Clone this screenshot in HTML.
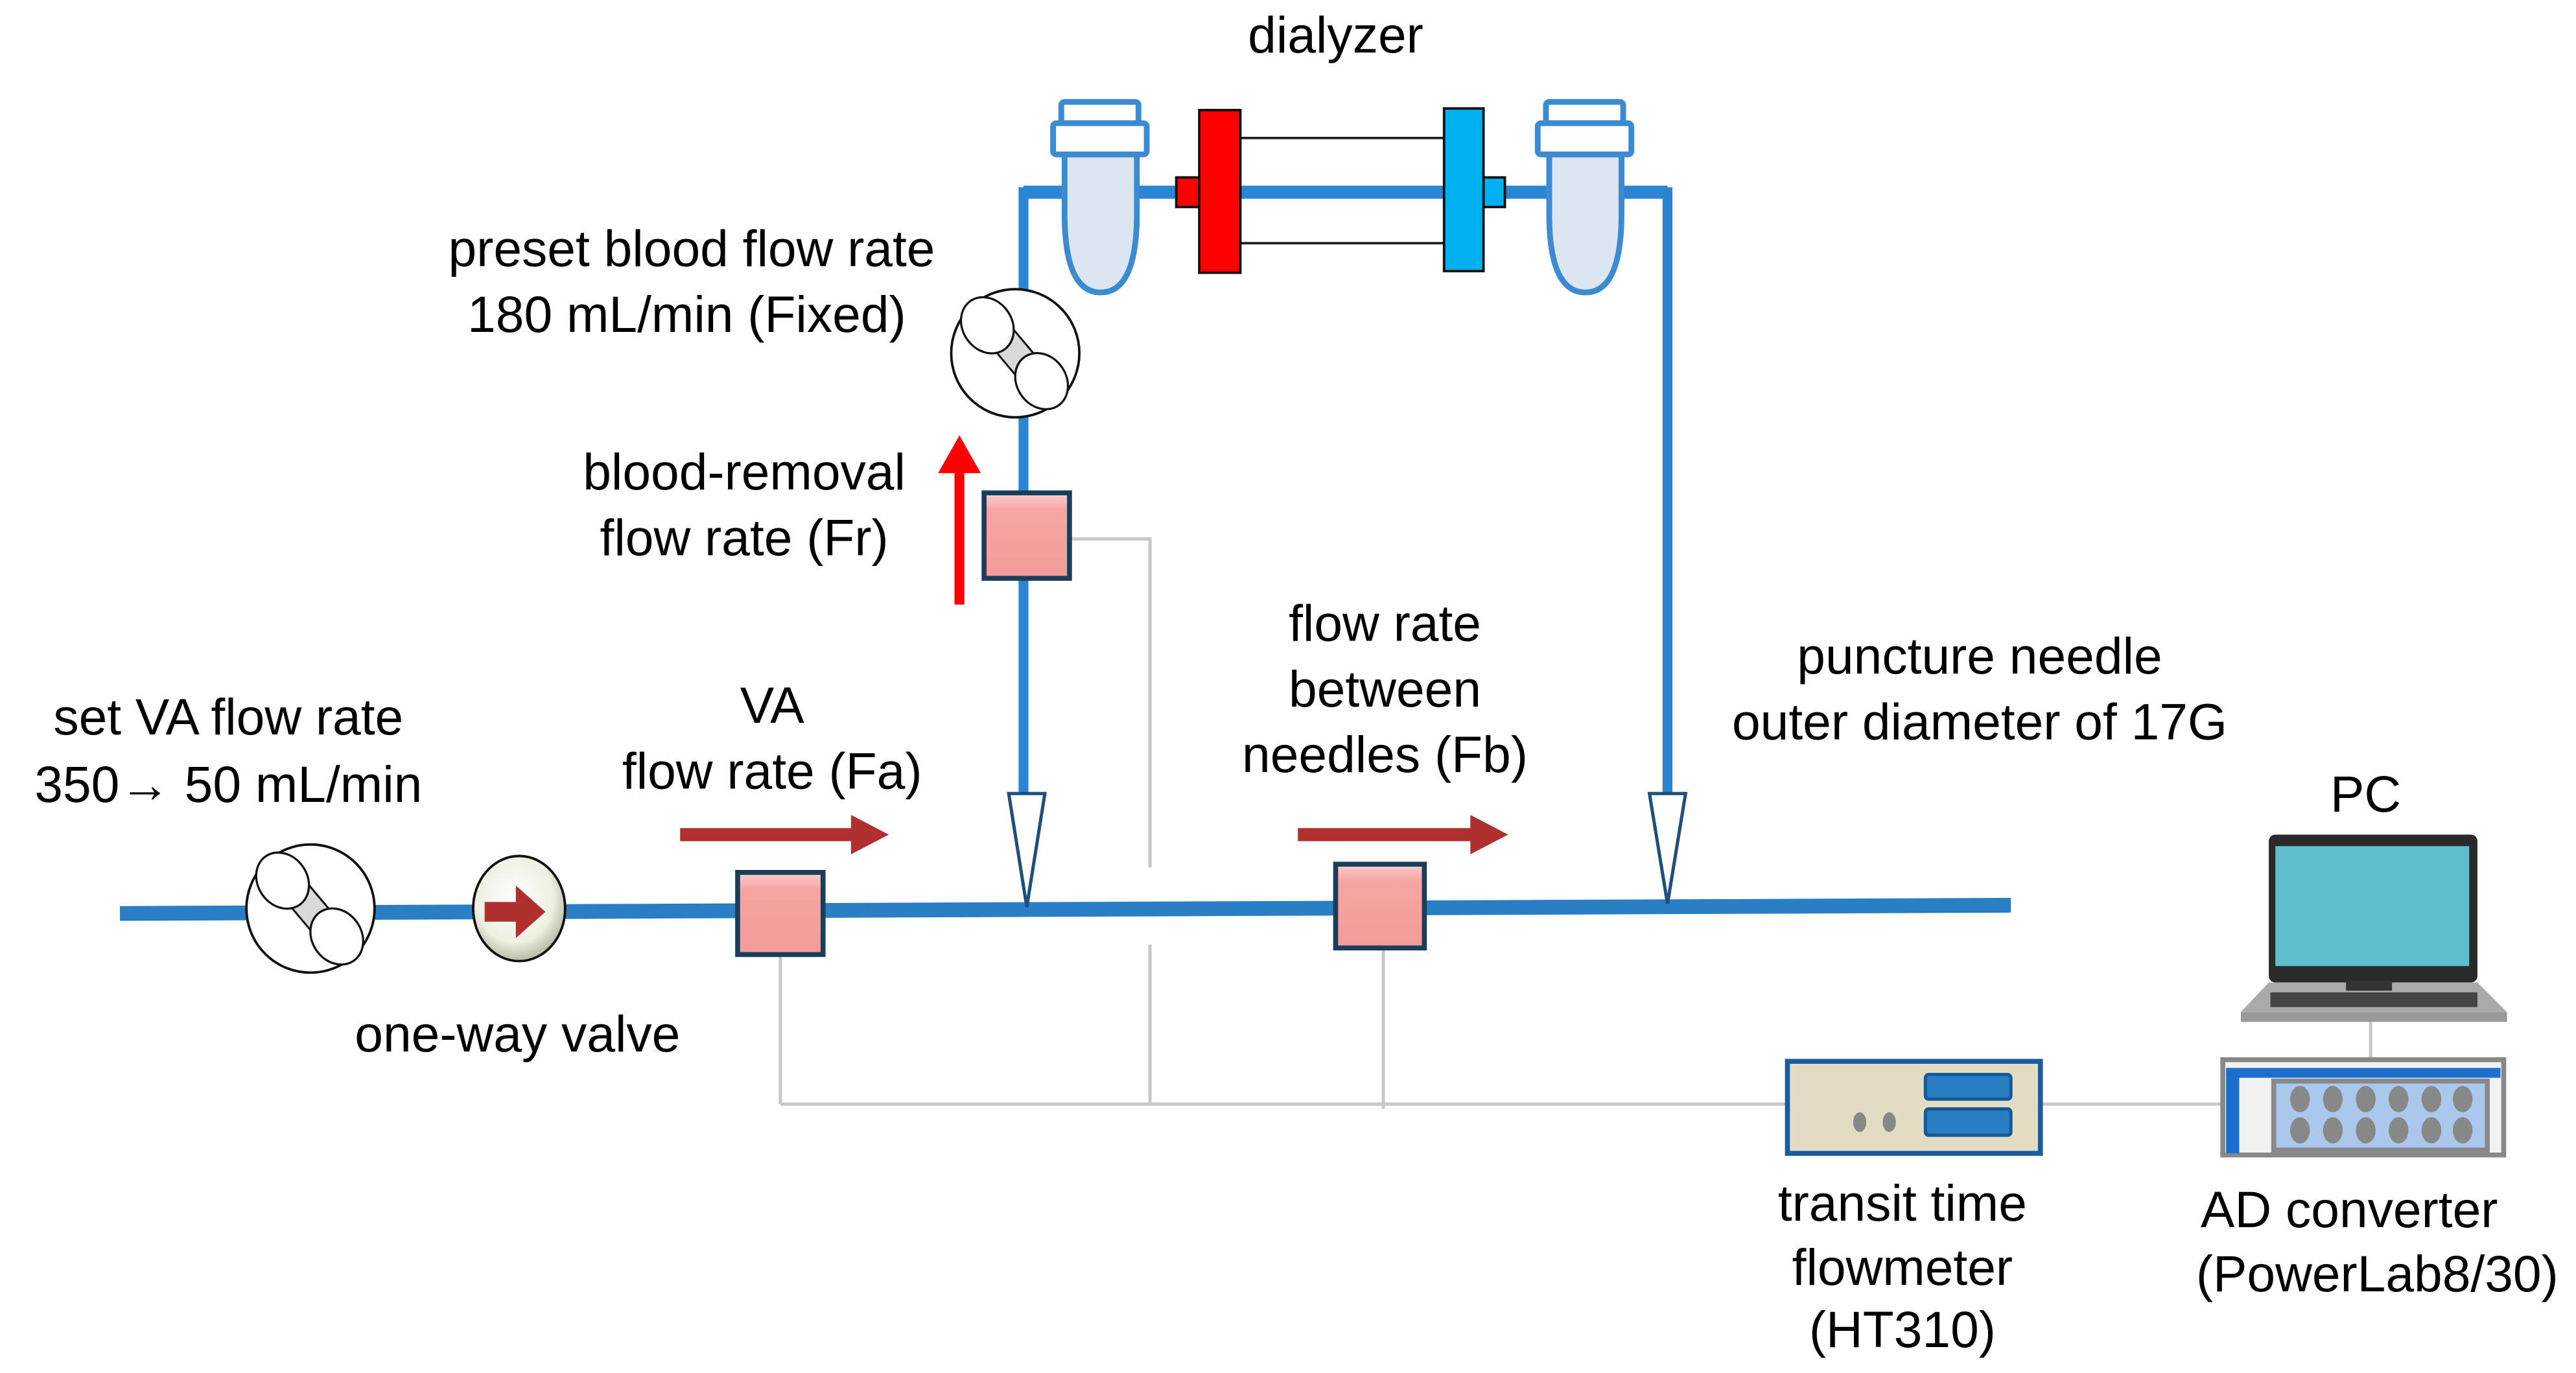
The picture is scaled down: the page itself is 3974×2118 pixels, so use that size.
<!DOCTYPE html>
<html><head><meta charset="utf-8"><style>html,body{margin:0;padding:0;background:#fff}svg{display:block}</style></head>
<body>
<svg width="3974" height="2118" viewBox="0 0 1568 835.7" preserveAspectRatio="none" xmlns="http://www.w3.org/2000/svg">
<defs>
<linearGradient id="pk" x1="0" y1="0" x2="0" y2="1"><stop offset="0" stop-color="#fbd0d0"/><stop offset="0.2" stop-color="#f6a5a2"/><stop offset="1" stop-color="#f29c98"/></linearGradient>
<radialGradient id="vg" cx="0.45" cy="0.4" r="0.6"><stop offset="0" stop-color="#ffffff"/><stop offset="0.7" stop-color="#eef0e0"/><stop offset="1" stop-color="#b8bba8"/></radialGradient>
</defs>
<g font-family="Liberation Sans, Arial, sans-serif" font-size="31" fill="#000" text-anchor="middle">
<text x="813" y="32">dialyzer</text>
<text x="421" y="162">preset blood flow rate</text>
<text x="418" y="202">180 mL/min (Fixed)</text>
<text x="453" y="298">blood-removal</text>
<text x="453" y="338">flow rate (Fr)</text>
<text x="139" y="447">set VA flow rate</text>
<text x="139" y="488">350→ 50 mL/min</text>
<text x="470" y="440">VA</text>
<text x="470" y="480">flow rate (Fa)</text>
<text x="843" y="390">flow rate</text>
<text x="843" y="430">between</text>
<text x="843" y="470">needles (Fb)</text>
<text x="1205" y="410">puncture needle</text>
<text x="1205" y="450">outer diameter of 17G</text>
<text x="1440" y="494">PC</text>
<text x="315" y="640">one-way valve</text>
<text x="1158" y="743">transit time</text>
<text x="1158" y="782">flowmeter</text>
<text x="1158" y="820">(HT310)</text>
<text x="1430" y="747">AD converter</text>
<text x="1447" y="786">(PowerLab8/30)</text>
</g>
<g stroke="#c8c8c8" stroke-width="2" fill="none">
<polyline points="652,328 700,328 700,528"/>
<line x1="700" y1="575" x2="700" y2="672"/>
<line x1="475" y1="582" x2="475" y2="672"/>
<line x1="475" y1="672" x2="1088" y2="672"/>
<line x1="842" y1="578" x2="842" y2="675"/>
<line x1="1243" y1="672" x2="1352" y2="672"/>
<line x1="1443" y1="620" x2="1443" y2="646"/>
</g>
<g stroke="#2a86d2" fill="none">
<line x1="73" y1="556" x2="1224" y2="551" stroke="#2a7fc4" stroke-width="9"/>
<polyline points="623,490 623,117 1015,117 1015,490" stroke-width="6"/>
<line x1="623" y1="117" x2="1015" y2="117" stroke-width="8"/>
</g>
<polygon points="614,483 636,483 625,552" fill="#fff" stroke="#1d4f7c" stroke-width="2"/>
<polygon points="1004,483 1026,483 1015,550" fill="#fff" stroke="#1d4f7c" stroke-width="2"/>
<g fill="#dbe6f2" stroke="#3c8ad0" stroke-width="3.5">
<path d="M648,94 L648,130 Q648,178 670,178 Q692,178 692,130 L692,94 Z"/>
<rect x="646" y="62" width="47" height="13" fill="#fff" rx="2"/>
<rect x="641" y="75" width="57" height="19" fill="#fff" rx="2"/>
<path d="M943,94 L943,130 Q943,178 965,178 Q987,178 987,130 L987,94 Z"/>
<rect x="941" y="62" width="47" height="13" fill="#fff" rx="2"/>
<rect x="936" y="75" width="57" height="19" fill="#fff" rx="2"/>
</g>
<line x1="755" y1="84" x2="879" y2="84" stroke="#222" stroke-width="1.5"/>
<line x1="755" y1="148" x2="879" y2="148" stroke="#222" stroke-width="1.5"/>
<rect x="716" y="108" width="14" height="18" fill="#f00" stroke="#111" stroke-width="1.5"/>
<rect x="730" y="67" width="25" height="99" fill="#f00" stroke="#111" stroke-width="1.5"/>
<rect x="903" y="108" width="13" height="18" fill="#00b0f0" stroke="#111" stroke-width="1.5"/>
<rect x="879" y="66" width="24" height="99" fill="#00b0f0" stroke="#111" stroke-width="1.5"/>
<g id="pump">
<circle cx="618" cy="215" r="39" fill="#fff" stroke="#111" stroke-width="1.5"/>
<polygon points="596,202 608,190 640,228 628,240" fill="#d9d9d9" stroke="#111" stroke-width="1.2"/>
<ellipse cx="601" cy="198" rx="15" ry="18" fill="#fff" stroke="#111" stroke-width="1.3" transform="rotate(-35 601 198)"/>
<ellipse cx="634" cy="232" rx="15" ry="18" fill="#fff" stroke="#111" stroke-width="1.3" transform="rotate(-35 634 232)"/>
</g>
<use href="#pump" transform="translate(-429 338)"/>
<ellipse cx="316" cy="553" rx="28" ry="32" fill="url(#vg)" stroke="#111" stroke-width="1.5"/>
<polygon points="295,549 314,549 314,539 332,555 314,571 314,561 295,561" fill="#b03030"/>
<g fill="url(#pk)" stroke="#1a3d5c" stroke-width="3">
<rect x="599" y="300" width="52" height="52"/>
<rect x="449" y="531" width="52" height="50"/>
<rect x="813" y="526" width="54" height="51"/>
</g>
<polygon points="581,368 587,368 587,288 597,288 584,265 571,288 581,288" fill="#f00"/>
<polygon points="414,504 518,504 518,496 541,508 518,520 518,512 414,512" fill="#b03030"/>
<polygon points="790,504 895,504 895,496 918,508 895,520 895,512 790,512" fill="#b03030"/>
<rect x="1088" y="646" width="154" height="56" fill="#e2dcc4" stroke="#1a5c9c" stroke-width="3"/>
<rect x="1172" y="654" width="52" height="15" fill="#2a7fc4" stroke="#155a96" stroke-width="2" rx="2"/>
<rect x="1172" y="675" width="52" height="16" fill="#2a7fc4" stroke="#155a96" stroke-width="2" rx="2"/>
<ellipse cx="1132" cy="683" rx="4" ry="6" fill="#888"/>
<ellipse cx="1150" cy="683" rx="4" ry="6" fill="#888"/>
<rect x="1353" y="645" width="171" height="58" fill="#f2f2f2" stroke="#888" stroke-width="3"/>
<rect x="1355" y="650" width="167" height="6" fill="#1a6fcf"/>
<rect x="1355" y="656" width="8" height="46" fill="#1a6fcf"/>
<rect x="1384" y="658" width="130" height="42" fill="#a9c8ec" stroke="#888" stroke-width="3"/>
<g fill="#888">
<ellipse cx="1400" cy="669" rx="6" ry="8"/><ellipse cx="1420" cy="669" rx="6" ry="8"/><ellipse cx="1440" cy="669" rx="6" ry="8"/><ellipse cx="1460" cy="669" rx="6" ry="8"/><ellipse cx="1480" cy="669" rx="6" ry="8"/><ellipse cx="1499" cy="669" rx="6" ry="8"/>
<ellipse cx="1400" cy="688" rx="6" ry="8"/><ellipse cx="1420" cy="688" rx="6" ry="8"/><ellipse cx="1440" cy="688" rx="6" ry="8"/><ellipse cx="1460" cy="688" rx="6" ry="8"/><ellipse cx="1480" cy="688" rx="6" ry="8"/><ellipse cx="1499" cy="688" rx="6" ry="8"/>
</g>
<rect x="1381" y="508" width="127" height="90" rx="4" fill="#2a2a2a"/>
<rect x="1385" y="515" width="118" height="73" fill="#5fbfcf"/>
<polygon points="1381,598 1508,598 1526,616 1364,616" fill="#aaa"/>
<rect x="1364" y="616" width="162" height="6" fill="#999"/>
<rect x="1382" y="604" width="126" height="9" fill="#444"/>
<rect x="1428" y="597" width="28" height="6" fill="#333"/>
</svg>
</body></html>
